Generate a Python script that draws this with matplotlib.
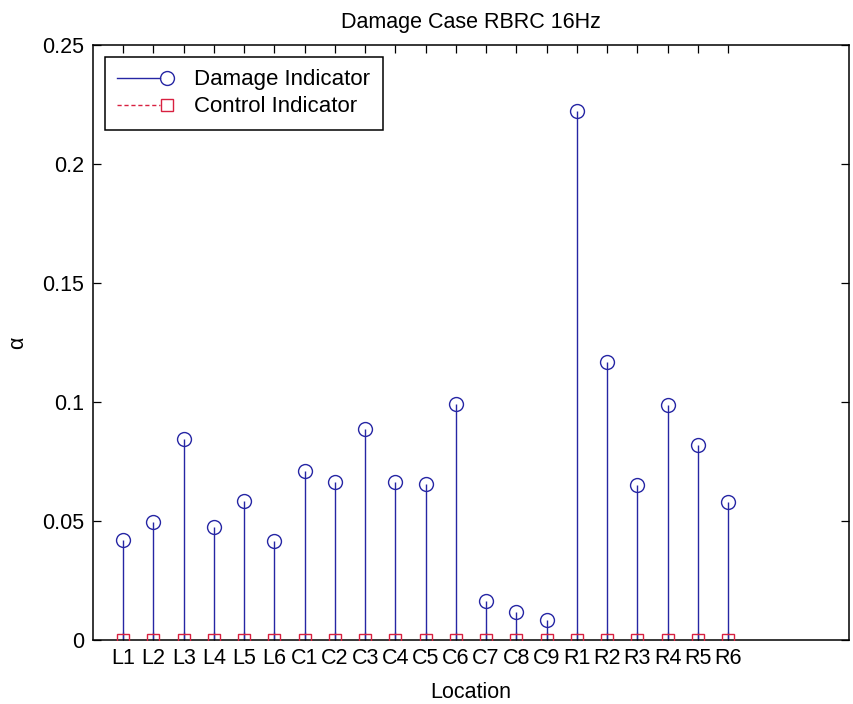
import matplotlib
matplotlib.use("Agg")
import matplotlib.pyplot as plt
from matplotlib.lines import Line2D
from matplotlib.legend_handler import HandlerBase
import numpy as np

plt.rcParams['font.family'] = ['Liberation Sans', 'DejaVu Sans']

locations = ['L1', 'L2', 'L3', 'L4', 'L5', 'L6', 'C1', 'C2', 'C3', 'C4', 'C5',
             'C6', 'C7', 'C8', 'C9', 'R1', 'R2', 'R3', 'R4', 'R5', 'R6']
damage = [0.0420, 0.0495, 0.0845, 0.0474, 0.0584, 0.0415, 0.0710, 0.0664,
          0.0885, 0.0663, 0.0655, 0.0992, 0.0165, 0.0116, 0.0084, 0.2224,
          0.1169, 0.0651, 0.0987, 0.0819, 0.0581]
control = [0.0] * len(locations)
yticks = [0, 0.05, 0.1, 0.15, 0.2, 0.25]
ytick_labels = ['0', '0.05', '0.1', '0.15', '0.2', '0.25']

BLUE = '#2626a4'
RED = '#d82040'
FS = 15.5
LFS = 16

fig = plt.figure(figsize=(8.54, 7.04), dpi=100)
ax = fig.add_axes([93 / 854, 1 - 640 / 704, (849 - 93) / 854, (640 - 45) / 704])

x = np.arange(1, len(locations) + 1)
ax.vlines(x, 0, damage, colors=BLUE, linewidth=1.0, zorder=2)
ax.plot(x, damage, linestyle='none', marker='o', markersize=10,
        markerfacecolor='none', markeredgecolor=BLUE, markeredgewidth=1.0, zorder=3)
ax.plot(x, control, linestyle='none', marker='s', markersize=9,
        markerfacecolor='none', markeredgecolor=RED, markeredgewidth=1.0, zorder=4)

ax.set_xlim(0, 25)
ax.set_ylim(0, 0.25)
ax.set_xticks(x)
ax.set_xticklabels(locations)
ax.set_yticks(yticks)
ax.set_yticklabels(ytick_labels)
ax.tick_params(direction='in', top=True, right=True, labelsize=FS, length=6,
               width=0.9)
ax.tick_params(axis='x', pad=6)
ax.tick_params(axis='y', pad=6.5)
for s in ax.spines.values():
    s.set_linewidth(1.1)
ax.set_xlabel('Location', fontsize=FS, labelpad=9)
ax.set_ylabel('α', fontsize=FS, labelpad=10)
ax.set_title('Damage Case RBRC 16Hz', fontsize=FS, pad=12)


class EndMarkerHandler(HandlerBase):
    def create_artists(self, legend, orig_handle, xdescent, ydescent,
                       width, height, fontsize, trans):
        y = height / 2.0 - ydescent
        line = Line2D([-xdescent, -xdescent + width * 0.75], [y, y])
        self.update_prop(line, orig_handle, legend)
        line.set_marker('None')
        mark = Line2D([-xdescent + width * 0.88], [y])
        self.update_prop(mark, orig_handle, legend)
        mark.set_linestyle('None')
        line.set_transform(trans)
        mark.set_transform(trans)
        return [line, mark]


h1 = Line2D([], [], color=BLUE, linewidth=1.0, marker='o', markersize=10,
            markerfacecolor='none', markeredgecolor=BLUE)
h2 = Line2D([], [], color=RED, linewidth=1.0, linestyle='--', marker='s',
            markersize=9, markerfacecolor='none', markeredgecolor=RED,
            dashes=(3, 2))
leg = ax.legend([h1, h2], ['Damage Indicator', 'Control Indicator'],
                loc='upper left', bbox_to_anchor=(0.0159, 0.9798),
                borderaxespad=0,
                handler_map={h1: EndMarkerHandler(), h2: EndMarkerHandler()},
                fontsize=LFS, handlelength=2.55, handletextpad=0.9,
                fancybox=False, edgecolor='black', framealpha=1,
                borderpad=0.56, labelspacing=0.27)
leg.get_frame().set_linewidth(1.1)

fig.savefig('out.png', dpi=100)
